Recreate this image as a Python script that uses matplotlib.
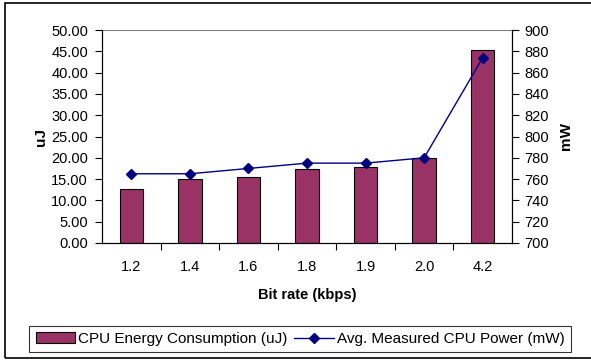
import matplotlib.pyplot as plt
from matplotlib.patches import Rectangle
from matplotlib.ticker import FixedLocator, NullFormatter

plt.rcParams['font.family'] = ['Liberation Sans', 'DejaVu Sans']

bit_rates = ['1.2', '1.4', '1.6', '1.8', '1.9', '2.0', '4.2']
energy_uj = [12.7, 15.0, 15.5, 17.3, 17.9, 19.9, 45.3]
power_mw = [765, 765, 770, 775, 775, 780, 874]

bar_color = '#993366'
line_color = '#000080'

fig = plt.figure(figsize=(5.91, 3.61), dpi=100)
# outer chart frame
fig.patches.append(Rectangle((5 / 591, 3 / 361), 1.0, 355 / 361, transform=fig.transFigure,
                             fill=False, edgecolor='black', linewidth=1.2))

ax = fig.add_axes([102 / 591, 118 / 361, 410 / 591, 213 / 361])
x = list(range(len(bit_rates)))
bars = ax.bar(x, energy_uj, width=0.4, color=bar_color, edgecolor='black', linewidth=0.8,
              label='CPU Energy Consumption (uJ)', zorder=2)
ax.set_xlim(-0.5, len(bit_rates) - 0.5)
ax.set_ylim(0, 50)
ax.set_yticks([i * 5 for i in range(11)])
ax.set_yticklabels([f'{i * 5:.2f}' for i in range(11)])
ax.set_xticks(x)
ax.set_xticklabels(bit_rates)
ax.tick_params(axis='x', which='major', length=0, pad=12, labelsize=10.5)
ax.xaxis.set_minor_locator(FixedLocator([i - 0.5 for i in range(1, len(bit_rates))]))
ax.xaxis.set_minor_formatter(NullFormatter())
ax.tick_params(axis='x', which='minor', length=5, width=0.8, direction='out')
ax.tick_params(axis='y', length=5, width=0.8, direction='out', labelsize=10.5, pad=5)
ax.spines['top'].set_color('#808080')
ax.spines['top'].set_linewidth(0.8)
for s in ('left', 'bottom', 'right'):
    ax.spines[s].set_linewidth(0.8)
ax.set_ylabel('uJ', fontsize=11, fontweight='bold', labelpad=2)
ax.set_xlabel('Bit rate (kbps)', fontsize=10.5, fontweight='bold', labelpad=10)

ax2 = ax.twinx()
line, = ax2.plot(x, power_mw, color=line_color, linewidth=1.0, marker='D', markersize=5,
                 label='Avg. Measured CPU Power (mW)', zorder=3)
ax2.set_ylim(700, 900)
ax2.set_yticks(range(700, 901, 20))
ax2.tick_params(axis='y', length=5, width=0.8, direction='out', labelsize=10.5, pad=4)
ax2.spines['top'].set_visible(False)
ax2.spines['right'].set_linewidth(0.8)
ax2.set_ylabel('mW', fontsize=11, fontweight='bold', labelpad=7)

leg = fig.legend([bars, line], [bars.get_label(), line.get_label()], loc='center',
                 bbox_to_anchor=(300 / 591, 22 / 361),
                 ncol=2, fontsize=11, frameon=True, fancybox=False, borderaxespad=0,
                 handlelength=2.6, handletextpad=0.2, columnspacing=0.4, borderpad=0.4)
leg.get_frame().set_edgecolor('black')
leg.get_frame().set_linewidth(0.8)

fig.savefig('out.png', dpi=100)
